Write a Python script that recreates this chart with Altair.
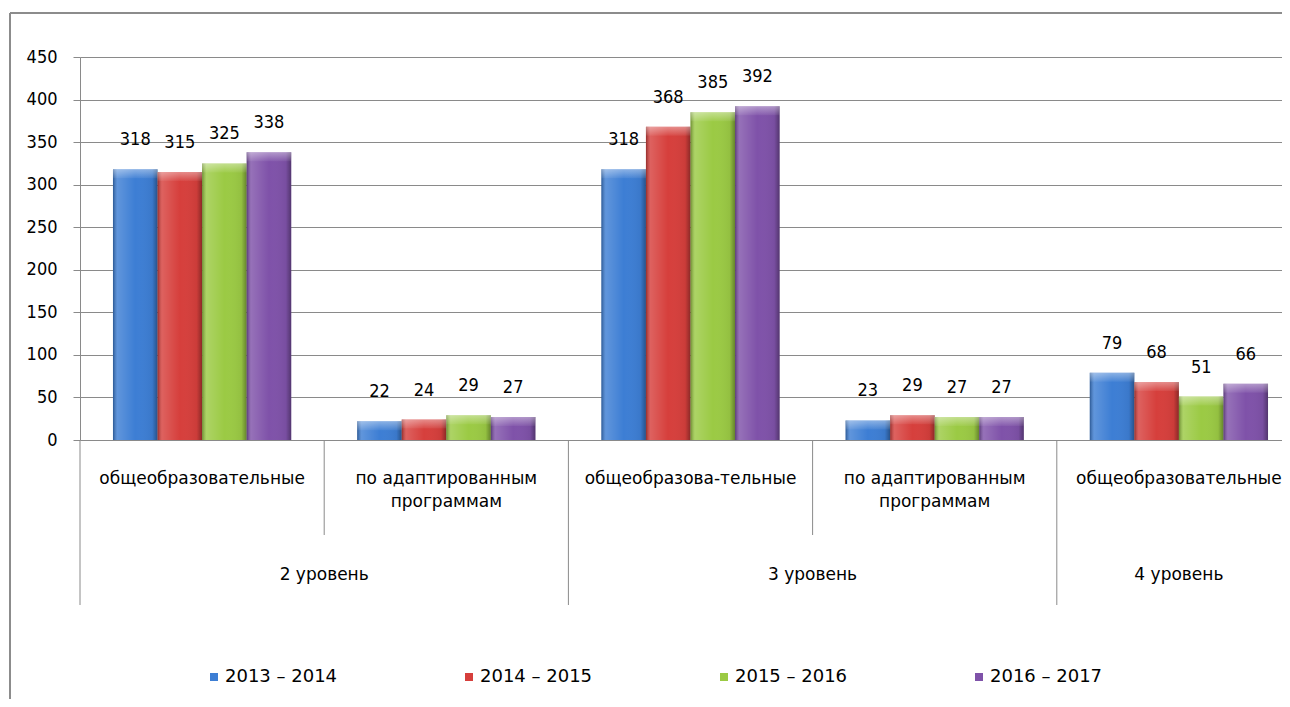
import altair as alt
import pandas as pd

# ---- data ----
cat_ids = ["c1", "c2", "c3", "c4", "c5"]
levels = ["2 уровень", "2 уровень", "3 уровень", "3 уровень", "4 уровень"]
programs = [
    "общеобразовательные",
    "по адаптированным\nпрограммам",
    "общеобразова-тельные",
    "по адаптированным\nпрограммам",
    "общеобразовательные",
]
series = ["2013 – 2014", "2014 – 2015", "2015 – 2016", "2016 – 2017"]
v2013 = [318, 22, 318, 23, 79]
v2014 = [315, 24, 368, 29, 68]
v2015 = [325, 29, 385, 27, 51]
v2016 = [338, 27, 392, 27, 66]
y_ticks = [0, 50, 100, 150, 200, 250, 300, 350, 400, 450]

colors = ["#3d7ed4", "#d63f3c", "#9bca44", "#7f52a9"]
GRID = "#8a8a8a"
FONT_N = "DejaVu Sans Condensed, DejaVu Sans"
FONT_W = "DejaVu Sans"

all_vals = [v2013, v2014, v2015, v2016]
bars_df = pd.DataFrame(
    [{"cat": c, "series": s, "value": vals[i]}
     for s, vals in zip(series, all_vals) for i, c in enumerate(cat_ids)]
)

# category table: separator kind and group label anchor
seps, anchors = [], []
for i, lv in enumerate(levels):
    seps.append("long" if i == 0 or levels[i - 1] != lv else "short")
for i, lv in enumerate(levels):
    cnt = levels.count(lv)
    first = levels.index(lv)
    if i == first:
        anchors.append("edge" if cnt == 2 else "center")
    else:
        anchors.append("none")
cats_df = pd.DataFrame({"cat": cat_ids, "program": programs, "level": levels,
                        "sep": seps, "anchor": anchors})

xscale = alt.Scale(domain=cat_ids, range=[0, 1221], padding=0)


def X(bp=None):
    if bp is None:
        return alt.X("cat:N", scale=xscale, axis=None)
    return alt.X("cat:N", scale=xscale, axis=None, bandPosition=bp)


xoff = alt.XOffset("series:N", scale=alt.Scale(domain=series, paddingOuter=0.74, paddingInner=0))
Y = alt.Y("value:Q", scale=alt.Scale(domain=[0, 450], nice=False),
          axis=alt.Axis(values=y_ticks, title=None, grid=True))

bars = alt.Chart(bars_df).mark_bar().encode(
    x=X(), xOffset=xoff, y=Y,
    color=alt.Color("series:N", scale=alt.Scale(domain=series, range=colors),
                    legend=alt.Legend(orient="none", legendX=125, legendY=611,
                                      direction="horizontal", columns=4, title=None,
                                      symbolType="square", symbolSize=64,
                                      symbolStrokeWidth=0, labelFont=FONT_W,
                                      labelFontSize=18, labelOffset=2,
                                      columnPadding=122, labelColor="#000")),
)

shade = alt.Chart(bars_df).mark_bar(
    fill={"gradient": "linear", "x1": 0, "x2": 1, "y1": 0, "y2": 0,
          "stops": [
              {"offset": 0, "color": "rgba(0,0,0,0.30)"},
              {"offset": 0.10, "color": "rgba(255,255,255,0.18)"},
              {"offset": 0.5, "color": "rgba(255,255,255,0.0)"},
              {"offset": 0.88, "color": "rgba(0,0,0,0.05)"},
              {"offset": 1, "color": "rgba(0,0,0,0.35)"},
          ]}
).encode(x=X(), xOffset=xoff, y="value:Q")

bevel = alt.Chart(bars_df).mark_bar(
    y2Offset=9,
    fill={"gradient": "linear", "x1": 0, "x2": 0, "y1": 0, "y2": 1,
          "stops": [
              {"offset": 0, "color": "rgba(255,255,255,0.40)"},
              {"offset": 1, "color": "rgba(255,255,255,0.05)"},
          ]}
).encode(x=X(), xOffset=xoff, y="value:Q", y2="value:Q")

labels = alt.Chart(bars_df).mark_text(baseline="middle", dy=-29, font=FONT_N,
                                      fontSize=18, color="#000").encode(
    x=X(), xOffset=xoff, y="value:Q", text="value:Q")

cat_text = alt.Chart(cats_df).mark_text(baseline="top", lineBreak="\n", font=FONT_W,
                                        fontSize=17, lineHeight=23, color="#000").encode(
    x=X(), y=alt.value(414), text="program:N")

sep_long = alt.Chart(cats_df).transform_filter(alt.datum.sep == "long").mark_rule(
    color=GRID).encode(x=X(0), y=alt.value(383), y2=alt.value(548))
sep_short = alt.Chart(cats_df).transform_filter(alt.datum.sep == "short").mark_rule(
    color=GRID).encode(x=X(0), y=alt.value(383), y2=alt.value(478))

grp_edge = alt.Chart(cats_df).transform_filter(alt.datum.anchor == "edge").mark_text(
    baseline="middle", font=FONT_W, fontSize=17, color="#000").encode(
    x=X(1), y=alt.value(518), text="level:N")
grp_center = alt.Chart(cats_df).transform_filter(alt.datum.anchor == "center").mark_text(
    baseline="middle", font=FONT_W, fontSize=17, color="#000").encode(
    x=X(0.5), y=alt.value(518), text="level:N")

one = alt.Data(values=[{}])
border_left = alt.Chart(one).mark_rule(color="#8c8c8c", strokeWidth=2).encode(
    x=alt.value(-70), y=alt.value(-44), y2=alt.value(700))
border_top = alt.Chart(one).mark_rule(color="#8c8c8c", strokeWidth=2).encode(
    x=alt.value(-70), x2=alt.value(1300), y=alt.value(-44))

chart = alt.layer(
    border_left, border_top, sep_long, sep_short, bars, shade, bevel, labels,
    cat_text, grp_edge, grp_center
).properties(
    width=1210, height=383,
    padding={"left": 72, "top": 49, "right": -8, "bottom": 259},
    autosize=alt.AutoSizeParams(type="none"),
).configure_view(stroke=None).configure_axisY(
    gridColor=GRID, domainColor=GRID, tickColor=GRID, tickSize=7,
    labelFont=FONT_N, labelFontSize=18, labelPadding=16, labelColor="#000",
    domainWidth=1, gridWidth=1,
)

chart.save("out.html", embed_options={"renderer": "svg", "actions": False})
